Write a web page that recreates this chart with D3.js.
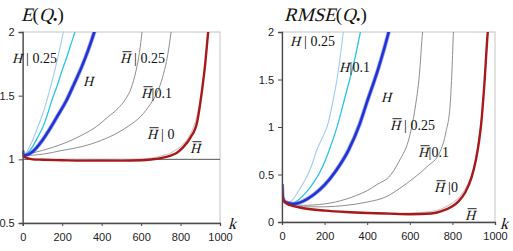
<!DOCTYPE html>
<html><head><meta charset="utf-8">
<script src="https://cdn.jsdelivr.net/npm/d3@7"></script>
<style>body{margin:0;background:#fff}</style>
</head><body>
<svg id="c" width="513" height="251"></svg>
<script>
// ---------- data: [k, value] ----------
const xTicks = [0,200,400,600,800,1000];
const yTicksLeft = [0.5,1,1.5,2];
const yTicksRight = [0,0.5,1,1.5,2];

// Left panel: E(Q.)
const eH025 = [[0,1.07],[5,1.03],[25,1.07],[50,1.15],[78,1.26],[100,1.35],[120,1.45],[150,1.62],[175,1.78],[206,2.0],[220,2.12]];
const eH01  = [[0,1.07],[5,1.03],[25,1.05],[50,1.1],[75,1.17],[104,1.26],[125,1.35],[145,1.45],[175,1.58],[200,1.7],[225,1.81],[250,1.93],[265,2.0],[280,2.08]];
const eH    = [[0,1.07],[5,1.03],[50,1.06],[100,1.15],[138,1.24],[180,1.35],[221,1.46],[260,1.59],[300,1.73],[330,1.85],[363,2.0],[375,2.06]];
const eHb025= [[0,1.07],[5,1.03],[50,1.05],[100,1.07],[200,1.12],[300,1.19],[376,1.26],[430,1.33],[483,1.40],[520,1.47],[550,1.56],[575,1.7],[592,1.84],[605,2.0],[612,2.08]];
const eHb01 = [[0,1.07],[5,1.03],[100,1.04],[200,1.07],[300,1.1],[400,1.15],[483,1.21],[535,1.26],[600,1.34],[650,1.44],[680,1.52],[710,1.65],[735,1.82],[752,2.0],[760,2.1]];
const eHb0  = [[0,1.07],[5,1.03],[50,1.005],[200,0.998],[400,0.995],[550,0.998],[650,1.01],[700,1.025],[750,1.05],[800,1.1],[840,1.17],[870,1.27],[895,1.42],[915,1.62],[930,1.83],[942,2.0],[948,2.08]];
const eHb   = [[0,1.05],[5,1.02],[50,1.0],[100,0.997],[200,0.993],[300,0.99],[400,0.99],[500,0.99],[600,0.993],[650,0.999],[700,1.01],[750,1.03],[780,1.05],[810,1.09],[850,1.17],[885,1.3],[907,1.52],[925,1.75],[940,2.0],[945,2.08]];

// Right panel: RMSE(Q.)
const rH025 = [[0,0.4],[3,0.27],[10,0.22],[30,0.205],[50,0.235],[70,0.3],[100,0.41],[117,0.48],[140,0.6],[164,0.76],[190,0.89],[214,1.02],[240,1.28],[265,1.6],[288,2.0],[295,2.12]];
const rH01  = [[0,0.4],[3,0.27],[10,0.22],[40,0.19],[70,0.22],[100,0.28],[150,0.42],[190,0.58],[219,0.74],[261,1.02],[300,1.35],[335,1.65],[368,2.0],[375,2.08]];
const rH    = [[0,0.4],[3,0.27],[10,0.22],[30,0.2],[55,0.19],[100,0.22],[150,0.29],[200,0.39],[250,0.53],[313,0.76],[363,1.02],[400,1.27],[450,1.6],[501,2.0],[510,2.08]];
const rHb025= [[0,0.4],[3,0.27],[10,0.22],[50,0.185],[100,0.175],[150,0.18],[200,0.19],[250,0.21],[300,0.24],[350,0.28],[400,0.33],[450,0.4],[500,0.47],[550,0.64],[601,0.92],[625,1.2],[645,1.55],[660,2.0],[665,2.1]];
const rHb01 = [[0,0.4],[3,0.27],[10,0.22],[50,0.175],[100,0.16],[200,0.16],[300,0.175],[400,0.21],[493,0.27],[550,0.35],[617,0.46],[680,0.58],[742,0.74],[770,0.95],[789,1.22],[798,1.6],[805,2.0],[808,2.1]];
const rHb0  = [[0,0.4],[3,0.27],[10,0.22],[50,0.17],[100,0.15],[200,0.125],[300,0.11],[400,0.1],[500,0.095],[600,0.095],[700,0.11],[750,0.14],[800,0.2],[840,0.28],[870,0.39],[900,0.57],[920,0.8],[935,1.05],[950,1.45],[968,2.0],[972,2.1]];
const rHb   = [[0,0.4],[3,0.27],[10,0.22],[25,0.19],[50,0.17],[100,0.145],[200,0.12],[300,0.105],[400,0.095],[500,0.088],[600,0.082],[700,0.09],[750,0.115],[800,0.165],[830,0.22],[860,0.31],[890,0.47],[910,0.65],[925,0.85],[935,1.03],[950,1.45],[966,2.0],[970,2.1]];

// ---------- styles ----------
const styles = {
  lb:   {stroke:"#9fcbef", w:1.1},
  cy:   {stroke:"#2cc3e8", w:1.3},
  bl:   {stroke:"#2232d4", w:2.6, halo:"#5a6ae6"},
  g:    {stroke:"#8e8e8e", w:1},
  lg:   {stroke:"#d6c4c4", w:1.1},
  rd:   {stroke:"#a8191b", w:2.4}
};

const svg = d3.select("#c");
svg.append("rect").attr("width",513).attr("height",251).attr("fill","#fff");

const sans = "\"Liberation Sans\"";
const serif = "\"Liberation Serif\"";

function richText(x, y, parts, fs){
  let cx = x;
  const out = [];
  parts.forEach(p=>{
    const t = svg.append("text").attr("font-family",serif).attr("font-size",fs).attr("fill","#111")
      .attr("font-style","normal").style("white-space","pre").text(p.t);
    if(p.b) t.attr("font-weight","bold");
    if(p.it){
      t.attr("x",0).attr("y",0).attr("transform",`translate(${cx},${y}) skewX(-15)`);
    } else {
      t.attr("x",cx).attr("y",y);
    }
    const w = t.node().getComputedTextLength();
    out.push({x:cx,w});
    cx += w + (p.gap||0);
  });
  return out;
}

function panel(cfg){
  const x = d3.scaleLinear().domain([0,1000]).range([cfg.x0,cfg.x1]);
  const y = d3.scaleLinear().domain(cfg.yDomain).range([cfg.y1,cfg.y0]);
  const g = svg.append("g");
  const id = "clip"+cfg.name;
  svg.append("clipPath").attr("id",id).append("rect")
    .attr("x",cfg.x0).attr("y",cfg.y0).attr("width",cfg.x1-cfg.x0).attr("height",cfg.y1-cfg.y0);
  g.append("rect").attr("x",cfg.x0).attr("y",cfg.y0).attr("width",cfg.x1-cfg.x0).attr("height",cfg.y1-cfg.y0)
    .attr("fill","none").attr("stroke","#c4c4c4").attr("stroke-width",1);
  if(cfg.refLine!==undefined){
    g.append("line").attr("x1",cfg.x0).attr("x2",cfg.x1).attr("y1",y(cfg.refLine)).attr("y2",y(cfg.refLine))
      .attr("stroke","#555").attr("stroke-width",1);
  }
  const line = d3.line().x(d=>x(d[0])).y(d=>y(d[1])).curve(d3.curveMonotoneX);
  const lg = g.append("g").attr("clip-path",`url(#${id})`);
  cfg.series.forEach(s=>{
    const st = styles[s.style];
    if(st.halo){
      lg.append("path").attr("d",line(s.data)).attr("fill","none").attr("stroke",st.halo)
        .attr("stroke-width",st.w+1.6).attr("stroke-opacity",0.55);
    }
    lg.append("path").attr("d",line(s.data)).attr("fill","none").attr("stroke",st.stroke)
      .attr("stroke-width",st.w).attr("stroke-linejoin","round");
  });
  const ax = g.append("g").attr("transform",`translate(0,${cfg.y1})`)
    .call(d3.axisBottom(x).tickValues(xTicks).tickSize(3).tickPadding(7).tickFormat(d3.format("d")));
  const ay = g.append("g").attr("transform",`translate(${cfg.x0},0)`)
    .call(d3.axisLeft(y).tickValues(cfg.yTicks).tickSize(4).tickPadding(4).tickFormat(d3.format("~g")));
  [ax,ay].forEach(a=>{
    a.attr("font-family",null).attr("font-size",null);
    a.select(".domain").attr("stroke","#4a4a4a").attr("stroke-width",1.3);
    a.selectAll(".tick line").attr("stroke","#4a4a4a");
    a.selectAll("text").attr("font-family",sans).attr("font-size",11).attr("fill","#222");
  });
  richText(cfg.titleX, 21, [
    {t:cfg.titleMain, it:true},{t:"("},{t:"Q", it:true},{t:".", b:true},{t:")"}
  ], 19);
  richText(cfg.kx, cfg.ky, [{t:"k", it:true}], 16);
  cfg.labels.forEach(l=>{
    const fs = 14;
    const parts = [{t:"H", it:true, gap:0.5}];
    if(l.rest) parts.push({t:l.rest});
    const m = richText(l.x, l.y, parts, fs);
    if(l.bar){
      svg.append("line").attr("x1",m[0].x+2.5).attr("x2",m[0].x+m[0].w+1.5)
        .attr("y1",l.y-11.3).attr("y2",l.y-11.3).attr("stroke","#111").attr("stroke-width",0.9);
    }
  });
}

panel({
  name:"L", x0:22.7, x1:220, y0:32, y1:223, yDomain:[0.5,2], yTicks:yTicksLeft, refLine:1,
  titleX:21, titleMain:"E", kx:228, ky:229,
  series:[
    {data:eHb0, style:"lg"},{data:eHb025, style:"g"},{data:eHb01, style:"g"},
    {data:eH025, style:"lb"},{data:eH01, style:"cy"},{data:eH, style:"bl"},{data:eHb, style:"rd"}
  ],
  labels:[
    {x:12, y:63, bar:false, rest:" | 0.25"},
    {x:83, y:86, bar:false},
    {x:120, y:63, bar:true, rest:" | 0.25"},
    {x:141, y:98, bar:true, rest:"|0.1"},
    {x:147, y:139, bar:true, rest:" | 0"},
    {x:190, y:153, bar:true}
  ]
});

panel({
  name:"R", x0:282, x1:495, y0:32, y1:222, yDomain:[0,2], yTicks:yTicksRight,
  titleX:284, titleMain:"RMSE", kx:500, ky:229,
  series:[
    {data:rHb0, style:"lg"},{data:rHb025, style:"g"},{data:rHb01, style:"g"},
    {data:rH025, style:"lb"},{data:rH01, style:"cy"},{data:rH, style:"bl"},{data:rHb, style:"rd"}
  ],
  labels:[
    {x:290, y:46, bar:false, rest:" | 0.25"},
    {x:339, y:72, bar:false, rest:"|0.1"},
    {x:381, y:102, bar:false},
    {x:390, y:130, bar:true, rest:" | 0.25"},
    {x:418, y:157, bar:true, rest:"|0.1"},
    {x:434, y:192, bar:true, rest:" |0"},
    {x:465, y:220, bar:true}
  ]
});
</script>
</body></html>
